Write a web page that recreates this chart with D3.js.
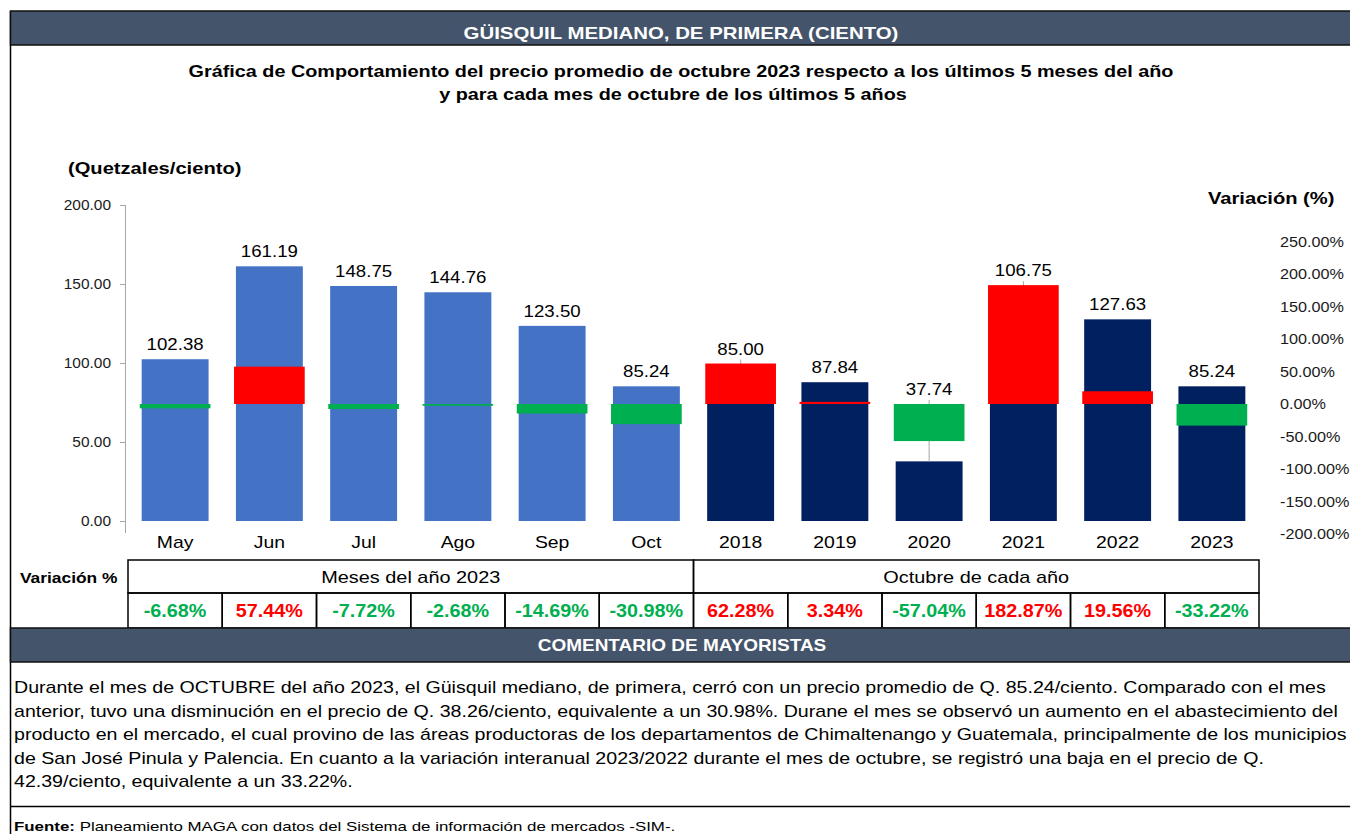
<!DOCTYPE html>
<html>
<head>
<meta charset="utf-8">
<script src="https://cdn.jsdelivr.net/npm/d3@7"></script>
<style>
	body { margin: 0; background: #fff; }
	svg { display: block; font-family: "Liberation Sans", Arial, sans-serif; }
</style>
</head>
<body>
<div id="chart"></div>
<script>
var months = ['May', 'Jun', 'Jul', 'Ago', 'Sep', 'Oct'],
	years = ['2018', '2019', '2020', '2021', '2022', '2023'],
	monthPrices = [102.38, 161.19, 148.75, 144.76, 123.50, 85.24],
	yearPrices = [85.00, 87.84, 37.74, 106.75, 127.63, 85.24],
	monthVar = [-6.68, 57.44, -7.72, -2.68, -14.69, -30.98],
	yearVar = [62.28, 3.34, -57.04, 182.87, 19.56, -33.22],
	priceTicks = [0, 50, 100, 150, 200],
	varTicks = [-200, -150, -100, -50, 0, 50, 100, 150, 200, 250]

var comment = [
	'Durante el mes de OCTUBRE del año 2023, el Güisquil mediano, de primera, cerró con un precio promedio de Q. 85.24/ciento. Comparado con el mes',
	'anterior, tuvo una disminución en el precio de Q. 38.26/ciento, equivalente a un 30.98%. Durane el mes se observó un aumento en el abastecimiento del',
	'producto en el mercado, el cual provino de las áreas productoras de los departamentos de Chimaltenango y Guatemala, principalmente de los municipios',
	'de San José Pinula y Palencia. En cuanto a la variación interanual 2023/2022 durante el mes de octubre, se registró una baja en el precio de Q.',
	'42.39/ciento, equivalente a un 33.22%.'
]

var W = 1350, H = 834,
	slate = '#44546A',
	green = '#00B050',
	red = '#FF0000'

var fmt = d3.formatLocale({decimal: '.', thousands: ',', grouping: [3], currency: ['', ''], minus: '-'}).format('.2f'),
	pctFmt = function(d) { return fmt(d) + '%' }

// the reference text runs a little wider than Liberation Sans
function stretch(sel, k) {
	sel.each(function() {
		var w = this.getComputedTextLength()
		d3.select(this).attr('textLength', w * k).attr('lengthAdjust', 'spacingAndGlyphs')
	})
}

var cats = months.concat(years),
	rows = cats.map(function(c, i) {
		var m = i < months.length
		return {
			cat: c,
			price: m ? monthPrices[i] : yearPrices[i - months.length],
			pct: m ? monthVar[i] : yearVar[i - months.length],
			fill: m ? '#4472C4' : '#002060'
		}
	})

var svg = d3.select('#chart').append('svg')
	.attr('width', W)
	.attr('height', H)

var x = d3.scaleBand().domain(cats).range([128, 1259]).padding(0),
	step = x.bandwidth(),
	y = d3.scaleLinear().domain([0, 200]).range([521, 205]),
	y2 = d3.scaleLinear().domain([-200, 250]).range([534, 241.5])

// frame
svg.append('line')
	.attr('x1', 10.5).attr('x2', 10.5)
	.attr('y1', 11).attr('y2', H)
	.attr('stroke', '#000').attr('stroke-width', 1.5)

svg.append('rect')
	.attr('x', 10.5).attr('y', 11)
	.attr('width', W).attr('height', 34)
	.attr('fill', slate)
	.attr('stroke', '#111').attr('stroke-width', 1.5)

svg.append('text')
	.attr('x', 681).attr('y', 39)
	.attr('text-anchor', 'middle')
	.attr('fill', '#fff')
	.attr('font-weight', 'bold')
	.attr('font-size', 17)
	.text('GÜISQUIL MEDIANO, DE PRIMERA (CIENTO)')
	.call(stretch, 1.2)

svg.append('text')
	.attr('x', 681).attr('y', 77)
	.attr('text-anchor', 'middle')
	.attr('font-weight', 'bold')
	.attr('font-size', 16.5)
	.text('Gráfica de Comportamiento del precio promedio de octubre 2023 respecto a los últimos 5 meses del año')
	.call(stretch, 1.2)

svg.append('text')
	.attr('x', 673).attr('y', 100)
	.attr('text-anchor', 'middle')
	.attr('font-weight', 'bold')
	.attr('font-size', 16.5)
	.text('y para cada mes de octubre de los últimos 5 años')
	.call(stretch, 1.2)

svg.append('text')
	.attr('x', 68).attr('y', 174)
	.attr('font-weight', 'bold')
	.attr('font-size', 16.5)
	.text('(Quetzales/ciento)')
	.call(stretch, 1.22)

svg.append('text')
	.attr('x', 1208).attr('y', 204)
	.attr('font-weight', 'bold')
	.attr('font-size', 16.5)
	.text('Variación (%)')
	.call(stretch, 1.22)

// axes
var yAxis = svg.append('g')
	.attr('transform', 'translate(125,0)')
	.call(d3.axisLeft(y).tickValues(priceTicks).tickFormat(fmt).tickSize(5).tickSizeOuter(0).tickPadding(9))
yAxis.select('.domain').attr('d', 'M0.5,' + y(200) + 'V533').attr('stroke', '#A6A6A6')
yAxis.selectAll('.tick line').attr('stroke', '#A6A6A6')
yAxis.selectAll('.tick text').attr('font-size', 15).attr('fill', '#1a1a1a').attr('font-family', null)
	.call(stretch, 1.03)

var y2Axis = svg.append('g')
	.attr('transform', 'translate(1280,0)')
	.call(d3.axisRight(y2).tickValues(varTicks).tickFormat(pctFmt).tickSize(0).tickPadding(0))
y2Axis.select('.domain').remove()
y2Axis.selectAll('.tick text').attr('font-size', 15).attr('fill', '#1a1a1a').attr('font-family', null)
	.call(stretch, 1.08)

var xAxis = svg.append('g')
	.attr('transform', 'translate(0,521)')
	.call(d3.axisBottom(x).tickSize(0).tickPadding(15))
xAxis.select('.domain').remove()
xAxis.selectAll('.tick text').attr('font-size', 17).attr('fill', '#000').attr('font-family', null)
	.call(stretch, 1.14)

// price bars
var barW = step * 0.71,
	varW = step * 0.75

svg.append('g').selectAll('rect')
	.data(rows)
	.join('rect')
	.attr('x', function(d) { return x(d.cat) + (step - barW) / 2 })
	.attr('y', function(d) { return y(d.price) })
	.attr('width', barW)
	.attr('height', function(d) { return y(0) - y(d.price) })
	.attr('fill', function(d) { return d.fill })

// leader lines where label sits away from the price bar
svg.append('g').selectAll('line')
	.data(rows.filter(function(d) { return y2(Math.max(d.pct, 0)) < y(d.price) }))
	.join('line')
	.attr('x1', function(d) { return x(d.cat) + step / 2 })
	.attr('x2', function(d) { return x(d.cat) + step / 2 })
	.attr('y1', function(d) { return y2(Math.max(d.pct, 0)) - 4 })
	.attr('y2', function(d) { return y(d.price) })
	.attr('stroke', '#A6A6A6')

// variation bars
svg.append('g').selectAll('rect')
	.data(rows)
	.join('rect')
	.attr('x', function(d) { return x(d.cat) + (step - varW) / 2 })
	.attr('y', function(d) { return Math.min(y2(0), y2(d.pct)) })
	.attr('width', varW)
	.attr('height', function(d) { return Math.abs(y2(d.pct) - y2(0)) })
	.attr('fill', function(d) { return d.pct < 0 ? green : red })

// value labels
svg.append('g').selectAll('text')
	.data(rows)
	.join('text')
	.attr('x', function(d) { return x(d.cat) + step / 2 })
	.attr('y', function(d) { return Math.min(y(d.price), y2(Math.max(d.pct, 0))) - 9 })
	.attr('text-anchor', 'middle')
	.attr('font-size', 16.5)
	.text(function(d) { return fmt(d.price) })
	.call(stretch, 1.13)

// table
var tbl = svg.append('g')

tbl.append('text')
	.attr('x', 20).attr('y', 583)
	.attr('font-weight', 'bold')
	.attr('font-size', 14)
	.text('Variación %')
	.call(stretch, 1.24)

var groups = [
	{label: 'Meses del año 2023', x0: x(months[0]), x1: x(months[months.length - 1]) + step},
	{label: 'Octubre de cada año', x0: x(years[0]), x1: x(years[years.length - 1]) + step}
]

tbl.selectAll('rect.grp')
	.data(groups)
	.join('rect')
	.attr('class', 'grp')
	.attr('x', function(d) { return d.x0 })
	.attr('y', 560)
	.attr('width', function(d) { return d.x1 - d.x0 })
	.attr('height', 33)
	.attr('fill', 'none')
	.attr('stroke', '#000').attr('stroke-width', 1.5)

tbl.selectAll('text.grp')
	.data(groups)
	.join('text')
	.attr('class', 'grp')
	.attr('x', function(d) { return (d.x0 + d.x1) / 2 })
	.attr('y', 583)
	.attr('text-anchor', 'middle')
	.attr('font-size', 17)
	.text(function(d) { return d.label })
	.call(stretch, 1.17)

tbl.selectAll('rect.cell')
	.data(rows)
	.join('rect')
	.attr('class', 'cell')
	.attr('x', function(d) { return x(d.cat) })
	.attr('y', 593)
	.attr('width', step)
	.attr('height', 35)
	.attr('fill', 'none')
	.attr('stroke', '#000').attr('stroke-width', 1.5)

tbl.selectAll('text.cell')
	.data(rows)
	.join('text')
	.attr('class', 'cell')
	.attr('x', function(d) { return x(d.cat) + step / 2 })
	.attr('y', 617)
	.attr('text-anchor', 'middle')
	.attr('font-weight', 'bold')
	.attr('font-size', 17.5)
	.attr('fill', function(d) { return d.pct < 0 ? green : red })
	.text(function(d) { return pctFmt(d.pct) })
	.call(stretch, 1.13)

// comment
svg.append('rect')
	.attr('x', 10.5).attr('y', 628)
	.attr('width', W).attr('height', 34)
	.attr('fill', slate)
	.attr('stroke', '#111').attr('stroke-width', 1.5)

svg.append('text')
	.attr('x', 682).attr('y', 651)
	.attr('text-anchor', 'middle')
	.attr('fill', '#fff')
	.attr('font-weight', 'bold')
	.attr('font-size', 16.5)
	.text('COMENTARIO DE MAYORISTAS')
	.call(stretch, 1.15)

svg.append('g').selectAll('text')
	.data(comment)
	.join('text')
	.attr('x', 14)
	.attr('y', function(d, i) { return 693 + i * 23.6 })
	.attr('font-size', 17)
	.text(function(d) { return d })
	.call(stretch, 1.152)

svg.append('line')
	.attr('x1', 10).attr('x2', W)
	.attr('y1', 806.5).attr('y2', 806.5)
	.attr('stroke', '#000').attr('stroke-width', 1.5)

var src = svg.append('text')
	.attr('x', 14).attr('y', 831)
	.attr('font-size', 13.5)
src.append('tspan').attr('font-weight', 'bold').text('Fuente: ')
src.append('tspan').text('Planeamiento MAGA con datos del Sistema de información de mercados -SIM-.')
src.call(stretch, 1.25)
</script>
</body>
</html>
